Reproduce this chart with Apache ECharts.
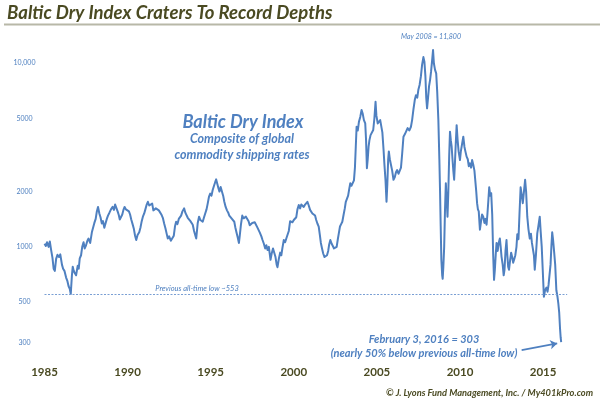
<!DOCTYPE html>
<html>
<head>
<meta charset="utf-8">
<script src="https://cdn.jsdelivr.net/npm/echarts@6/dist/echarts.min.js"></script>
<style>
html,body{margin:0;padding:0;background:#fff}
#chart{width:600px;height:399px}
</style>
</head>
<body>
<div id="chart"></div>
<script>
// data (year as decimal, index value)
const years = [
  1985.00,1985.08,1985.15,1985.25,1985.32,1985.40,1985.48,1985.55,1985.62,1985.70,
  1985.78,1985.88,1985.95,1986.05,1986.12,1986.20,1986.30,1986.38,1986.45,1986.52,
  1986.58,1986.65,1986.70,1986.76,1986.82,1986.90,1987.00,1987.06,1987.12,1987.20,
  1987.27,1987.35,1987.42,1987.50,1987.58,1987.65,1987.75,1987.85,1987.93,1988.00,
  1988.08,1988.15,1988.22,1988.30,1988.37,1988.45,1988.52,1988.60,1988.68,1988.75,
  1988.82,1988.90,1989.00,1989.10,1989.18,1989.25,1989.32,1989.40,1989.47,1989.53,
  1989.60,1989.68,1989.75,1989.82,1989.90,1990.00,1990.08,1990.15,1990.22,1990.30,
  1990.38,1990.45,1990.52,1990.60,1990.70,1990.78,1990.85,1990.92,1991.00,1991.07,
  1991.15,1991.22,1991.30,1991.40,1991.48,1991.55,1991.62,1991.70,1991.80,1991.88,
  1991.95,1992.05,1992.12,1992.20,1992.28,1992.35,1992.42,1992.50,1992.60,1992.70,
  1992.78,1992.85,1992.92,1993.00,1993.08,1993.15,1993.22,1993.30,1993.40,1993.48,
  1993.55,1993.62,1993.70,1993.78,1993.85,1993.92,1994.00,1994.08,1994.13,1994.22,
  1994.30,1994.38,1994.45,1994.52,1994.60,1994.68,1994.75,1994.82,1994.90,1994.97,
  1995.05,1995.12,1995.20,1995.27,1995.33,1995.40,1995.47,1995.53,1995.60,1995.67,
  1995.75,1995.82,1995.90,1995.98,1996.05,1996.12,1996.20,1996.28,1996.35,1996.42,
  1996.48,1996.55,1996.62,1996.70,1996.75,1996.82,1996.90,1996.98,1997.05,1997.12,
  1997.20,1997.28,1997.35,1997.42,1997.50,1997.58,1997.65,1997.72,1997.80,1997.88,
  1997.95,1998.05,1998.12,1998.20,1998.28,1998.35,1998.42,1998.50,1998.55,1998.60,
  1998.67,1998.75,1998.82,1998.90,1998.97,1999.02,1999.10,1999.18,1999.25,1999.32,
  1999.40,1999.48,1999.55,1999.62,1999.70,1999.78,1999.85,1999.92,2000.00,2000.08,
  2000.15,2000.22,2000.30,2000.38,2000.45,2000.52,2000.60,2000.68,2000.75,2000.82,
  2000.90,2000.98,2001.05,2001.12,2001.20,2001.28,2001.35,2001.42,2001.50,2001.57,
  2001.63,2001.70,2001.77,2001.85,2001.92,2002.00,2002.07,2002.13,2002.20,2002.28,
  2002.35,2002.42,2002.50,2002.58,2002.65,2002.72,2002.78,2002.85,2002.92,2003.00,
  2003.07,2003.13,2003.20,2003.27,2003.33,2003.40,2003.47,2003.55,2003.62,2003.68,
  2003.73,2003.78,2003.85,2003.92,2004.00,2004.08,2004.15,2004.22,2004.30,2004.35,
  2004.40,2004.45,2004.50,2004.55,2004.62,2004.70,2004.78,2004.85,2004.92,2004.97,
  2005.05,2005.12,2005.20,2005.27,2005.33,2005.40,2005.45,2005.52,2005.58,2005.63,
  2005.68,2005.72,2005.78,2005.85,2005.92,2006.00,2006.08,2006.15,2006.22,2006.30,
  2006.38,2006.45,2006.52,2006.60,2006.68,2006.75,2006.85,2006.95,2007.05,2007.12,
  2007.20,2007.28,2007.35,2007.43,2007.50,2007.57,2007.65,2007.72,2007.80,2007.86,
  2007.92,2007.97,2008.02,2008.08,2008.14,2008.20,2008.26,2008.33,2008.38,2008.43,
  2008.50,2008.57,2008.63,2008.70,2008.76,2008.80,2008.84,2008.88,2008.93,2008.96,
  2009.00,2009.05,2009.10,2009.15,2009.20,2009.25,2009.30,2009.35,2009.40,2009.45,
  2009.50,2009.55,2009.60,2009.65,2009.70,2009.75,2009.80,2009.86,2009.92,2010.00,
  2010.05,2010.12,2010.20,2010.27,2010.33,2010.40,2010.47,2010.53,2010.60,2010.67,
  2010.73,2010.80,2010.87,2010.93,2010.98,2011.03,2011.08,2011.13,2011.20,2011.27,
  2011.33,2011.40,2011.47,2011.53,2011.60,2011.65,2011.71,2011.76,2011.82,2011.88,
  2011.94,2012.00,2012.05,2012.10,2012.15,2012.20,2012.27,2012.33,2012.40,2012.45,
  2012.50,2012.57,2012.63,2012.68,2012.74,2012.80,2012.85,2012.90,2012.95,2013.02,
  2013.08,2013.14,2013.20,2013.27,2013.33,2013.40,2013.45,2013.52,2013.58,2013.65,
  2013.72,2013.78,2013.85,2013.92,2013.98,2014.05,2014.12,2014.20,2014.27,2014.33,
  2014.40,2014.45,2014.50,2014.57,2014.65,2014.72,2014.80,2014.86,2014.92,2014.98,
  2015.05,2015.12,2015.20,2015.27,2015.33,2015.40,2015.45,2015.50,2015.55,2015.60,
  2015.67,2015.73,2015.80,2015.86,2015.92,2015.97,2016.02,2016.06,2016.09
]
const bdi = [
  1040,1010,1060,1000,1070,960,870,760,740,860,
  905,880,910,800,760,740,680,650,610,590,
  553,700,780,740,720,700,790,760,865,900,
  1000,1060,980,1020,1080,1110,1050,1200,1180,1350,
  1420,1560,1650,1520,1450,1340,1380,1270,1350,1420,
  1480,1530,1600,1650,1590,1700,1720,1560,1490,1410,
  1430,1500,1590,1650,1600,1620,1560,1500,1410,1330,
  1250,1150,1090,1160,1200,1280,1380,1460,1520,1600,
  1700,1760,1680,1650,1720,1580,1560,1620,1650,1580,
  1550,1490,1440,1340,1260,1180,1110,1140,1080,1060,
  1150,1290,1370,1330,1420,1400,1480,1560,1620,1530,
  1500,1440,1460,1380,1350,1320,1220,1150,1110,1350,
  1460,1400,1420,1370,1450,1530,1600,1720,1880,1950,
  1900,2040,2150,2250,2330,2200,2080,2000,2120,2080,
  1900,1760,1650,1580,1540,1480,1500,1420,1400,1370,
  1280,1200,1130,1050,1150,1320,1480,1430,1400,1460,
  1480,1380,1310,1290,1350,1320,1360,1340,1280,1250,
  1200,1140,1090,1040,980,1020,960,1000,920,850,
  920,980,1000,880,800,775,860,930,900,990,
  1090,1060,1110,1120,1220,1380,1410,1360,1400,1370,
  1450,1600,1690,1620,1700,1660,1650,1700,1740,1760,
  1680,1590,1560,1520,1500,1480,1400,1340,1290,1160,
  1050,980,920,880,865,900,950,1030,1090,1040,
  1010,980,960,1000,1100,1200,1290,1330,1370,1500,
  1620,1760,1720,1900,2050,2220,2150,2160,2300,2700,
  3500,4510,4300,4800,5100,5560,5300,4900,4700,3800,
  2680,3000,3500,3800,4060,4150,4330,5000,6170,5200,
  4700,4650,4900,4800,4200,3400,2850,2300,1760,2200,
  3000,3310,3000,2790,2600,2320,2400,2550,2620,2500,
  2480,2700,3200,3980,4100,4200,4430,4300,4510,4900,
  5600,6300,6700,6500,7200,7610,8500,9800,10800,10200,
  8500,6500,5680,6500,7500,8100,9000,10500,11800,10000,
  9200,8810,7000,4900,3000,2040,1300,850,700,670,
  780,1000,1600,2220,1800,1460,2000,3100,4240,3800,
  3510,3000,2600,2320,2900,3700,4600,3800,3300,2970,
  3300,3600,3980,3500,3300,3100,3000,2750,2850,2700,
  2970,2800,2600,2540,2000,1730,1600,1560,1240,1380,
  1500,1460,1350,1420,1320,1500,1800,2110,1900,1960,
  1500,900,661,750,900,1050,950,1050,1110,1000,
  885,800,700,750,950,1090,900,780,750,850,
  930,880,820,860,900,1000,1170,1100,1500,2110,
  1900,1730,2000,2320,2000,1460,1250,1110,1180,1050,
  1050,900,750,900,1180,1300,1460,1200,1000,750,
  535,580,600,570,620,610,800,1000,1200,1100,
  930,800,580,540,490,440,360,320,303
]
const xTicks = [1985,1990,1995,2000,2005,2010,2015]
const yTicks = [300,500,1000,2000,5000,10000]
const prevLow = 553
const arrowFrom = [2013.71,274]
const arrowTo = [2015.85,298]

const blue = '#4f80c0'
const olive = '#4a4a22'

const chart = echarts.init(document.getElementById('chart'))
const seriesData = years.map((y,i)=>[y,bdi[i]])

const option = {
  backgroundColor:'#fff',
  animation:false,
  grid:{left:44.5,right:23.7,top:30.9,bottom:41.6},
  xAxis:{
    type:'value',
    min:1985,
    max:2017,
    axisLine:{show:false},
    axisTick:{show:false},
    splitLine:{show:false},
    axisLabel:{
      customValues:xTicks,
      margin:9,
      color:olive,
      fontFamily:'Lato',
      fontWeight:'bold',
      fontSize:11.5,
      formatter:v=>String(v)
    }
  },
  yAxis:{
    type:'log',
    min:250,
    max:15000,
    axisLine:{show:false},
    axisTick:{show:false},
    splitLine:{show:false},
    axisLabel:{
      customValues:yTicks,
      margin:20,
      align:'center',
      color:blue,
      fontFamily:'Lato',
      fontSize:7,
      formatter:v=>v>=10000?'10,000':String(v)
    }
  },
  series:[
    {
      type:'line',
      data:seriesData,
      showSymbol:false,
      lineStyle:{color:blue,width:2,join:'round'},
      markLine:{
        silent:true,
        symbol:['none','none'],
        label:{show:false},
        lineStyle:{color:'#7a9fd4',width:1.2,type:[2,1.5]},
        data:[[{coord:[1985,prevLow]},{coord:[2016.45,prevLow]}]]
      }
    },
    {
      type:'line',
      data:[],
      markLine:{
        silent:true,
        symbol:['none','arrow'],
        symbolSize:7,
        label:{show:false},
        lineStyle:{color:blue,width:1.6,type:'solid'},
        data:[[{coord:arrowFrom},{coord:arrowTo}]]
      }
    }
  ],
  graphic:[
    {type:'text',x:7,y:13,style:{text:'Baltic Dry Index Craters To Record Depths',fill:olive,font:'italic bold 18.5px Lato',verticalAlign:'middle'}},
    {type:'line',shape:{x1:4,y1:24.5,x2:600,y2:24.5},style:{stroke:'#b8b8a8',lineWidth:2}},
    {type:'text',x:243,y:122,style:{text:'Baltic Dry Index',fill:blue,font:'italic bold 18px Lato',align:'center',verticalAlign:'middle'}},
    {type:'text',x:242,y:139,style:{text:'Composite of global',fill:blue,font:'italic bold 12.5px Lato',align:'center',verticalAlign:'middle'}},
    {type:'text',x:242,y:155,style:{text:'commodity shipping rates',fill:blue,font:'italic bold 12.5px Lato',align:'center',verticalAlign:'middle'}},
    {type:'text',x:431,y:37,style:{text:'May 2008 = 11,800',fill:blue,font:'italic 7px Lato',align:'center',verticalAlign:'middle'}},
    {type:'text',x:197,y:289,style:{text:'Previous all-time low ~553',fill:blue,font:'italic 7.5px Lato',align:'center',verticalAlign:'middle'}},
    {type:'text',x:424,y:339,style:{text:'February 3, 2016 = 303',fill:blue,font:'italic bold 11px Lato',align:'center',verticalAlign:'middle'}},
    {type:'text',x:424,y:353,style:{text:'(nearly 50% below previous all-time low)',fill:blue,font:'italic bold 11px Lato',align:'center',verticalAlign:'middle'}},
    {type:'text',x:593,y:392.5,style:{text:'© J. Lyons Fund Management, Inc. / My401kPro.com',fill:olive,font:'italic bold 9.3px Lato',align:'right',verticalAlign:'middle'}}
  ]
}
chart.setOption(option)
</script>
</body>
</html>
